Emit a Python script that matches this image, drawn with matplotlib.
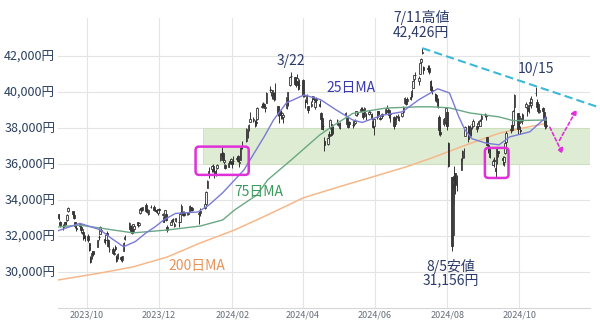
import matplotlib
matplotlib.use("Agg")
import matplotlib.pyplot as plt
import matplotlib.dates as mdates
from matplotlib.patches import FancyBboxPatch, Rectangle
import numpy as np
import pandas as pd

plt.rcParams['font.family'] = ['Noto Sans CJK JP', 'DejaVu Sans']

jp_holidays = ["2023-09-18", "2023-10-09", "2023-11-03", "2023-11-23", "2024-01-01",
               "2024-01-02", "2024-01-03", "2024-01-08", "2024-02-12", "2024-02-23",
               "2024-03-20", "2024-04-29", "2024-05-03", "2024-05-06", "2024-07-15",
               "2024-08-12", "2024-09-16", "2024-09-23", "2024-10-14"]

opens = [33200, 32750,
 32530, 32600, 32750, 32880, 33390,
 33380, 33150, 32790, 32460,
 32560, 32510, 32200, 32230, 32010,
 31990, 31590, 30780, 30790, 31140,
 31390, 31960, 32130, 32270,
 31850, 31770, 32150, 31760, 31250,
 31260, 31020, 31400, 30820, 30790,
 30840, 30660, 31190, 31840,
 32410, 32530, 32380, 32280, 32410,
 32770, 32620, 33260, 33550, 33460,
 33710, 33320, 33220, 33590,
 33620, 33440, 33450, 33300, 33510,
 33190, 33070, 33020, 33220, 32480,
 32620, 32860, 32920, 32550, 32840,
 32780, 32770, 33280, 33330, 33270,
 33220, 33240, 33380, 33580, 33530,
 33200, 33250,
 33560, 33790, 34660, 35360,
 35700, 35900, 35480, 35600, 35770,
 36220, 36600, 36580, 36100, 35960,
 35850, 36150, 36080, 36090, 36150,
 36260, 36460, 36050, 36210, 36980,
 37250, 37500, 37900, 38310,
 38460, 38360, 38300, 38490,
 39180, 39240, 39300, 39080, 39400,
 40110, 40000, 39800, 39940, 39580,
 39240, 38710, 38920, 38710, 38630,
 39120, 39770, 40390, 40870,
 40810, 40600, 40600, 40470, 40390,
 40650, 39750, 39480, 39450, 39210,
 39240, 39610, 39700, 39160, 39640,
 39330, 38800, 38570, 38120, 37250,
 37130, 37660, 37970, 38220, 37780,
 38450, 38180, 38010,
 38700, 38540, 38230, 38350,
 38180, 38200, 38280, 38740, 38850,
 38960, 39040, 38830, 38770, 38710,
 38790, 38890, 38790, 38370, 38110,
 38600, 38910, 38570, 38530, 38790,
 38830, 39020, 38920, 38990, 38770,
 38620, 38220, 38560, 38640, 38450,
 38670, 38870, 39370, 39580, 39480,
 39720, 39810, 40210, 40710, 40960,
 40580, 41010, 41680, 42180, 41380,
 41320, 41310, 40610, 40090,
 39860, 39810, 39620, 38590, 37780,
 38210, 38410, 38300, 38870, 37180,
 35250, 32080, 35340, 35470, 34930,
 35670, 36330, 36370, 37550,
 38130, 37610, 37890, 38210, 38110,
 37960, 38120, 38200, 38130, 38500,
 38740, 38650, 37500, 37040, 36600,
 35930, 36190, 35800, 36060, 36690,
 36330, 36080, 36580, 37200,
 37900, 38150, 38140, 39140,
 38820, 38250, 37890, 38320, 38460,
 39160, 39090, 38990, 39420, 39280,
 39960, 39460, 39350, 38870,
 39120, 38870, 38580, 38120]

highs = [33220, 32850,
 32660, 32800, 32840, 33200, 33630,
 33380, 33270, 32790, 32600,
 32700, 32560, 32390, 32280, 32060,
 32100, 31610, 30890, 31180, 31170,
 31780, 32040, 32530, 32400,
 31880, 32060, 32260, 31830, 31440,
 31380, 31190, 31470, 30920, 31040,
 30880, 30900, 31640, 32040,
 32770, 32600, 32440, 32650, 32600,
 32790, 32760, 33570, 33610, 33620,
 33850, 33520, 33520, 33720,
 33700, 33480, 33460, 33490, 33540,
 33300, 33100, 33460, 33240, 32590,
 32830, 32930, 32970, 32790, 33000,
 32940, 33350, 33770, 33370, 33370,
 33260, 33340, 33700, 33600, 33570,
 33380, 33570,
 33990, 34510, 35130, 35840,
 35960, 36010, 35710, 35740, 36000,
 36580, 36980, 36680, 36290, 36000,
 36110, 36250, 36320, 36100, 36440,
 36400, 36480, 36190, 36900, 37290,
 38000, 37870, 38230, 38870,
 38600, 38430, 38500, 39160,
 39390, 39430, 39360, 39250, 39990,
 40310, 40140, 40100, 40000, 40470,
 39240, 38900, 39000, 38860, 38740,
 39740, 40010, 40820, 41090,
 40840, 40630, 40980, 40580, 40700,
 40700, 39960, 39580, 39870, 39230,
 39480, 39780, 39770, 39540, 39720,
 39540, 38860, 38600, 38190, 37490,
 37520, 37820, 38480, 38240, 38120,
 38480, 38320, 38310,
 38870, 38540, 38330, 38390,
 38350, 38400, 38470, 38960, 38930,
 39140, 39150, 38880, 39170, 38800,
 38990, 38940, 38830, 38400, 38520,
 38940, 38960, 38640, 38740, 38800,
 39090, 39260, 39050, 39060, 38900,
 38640, 38500, 38710, 38780, 38640,
 38850, 39230, 39690, 39610, 39690,
 39860, 40170, 40640, 40950, 41100,
 40880, 41600, 41890, 42430, 41460,
 41510, 41470, 40670, 40340,
 39950, 39900, 39670, 38730, 38080,
 38570, 38620, 39160, 38930, 37220,
 35250, 34910, 35890, 35510, 35360,
 36320, 36760, 36860, 38120,
 38140, 38160, 38030, 38290, 38470,
 38160, 38340, 38460, 38480, 38790,
 38820, 38790, 37500, 37140, 36870,
 36290, 36360, 36060, 36870, 36740,
 36460, 36450, 37240, 37820,
 38170, 38220, 38980, 39880,
 38820, 38720, 38090, 38800, 38780,
 39440, 39170, 39330, 39680, 39780,
 40260, 39590, 39350, 39100,
 39160, 38900, 38580, 38410]

lows = [32900, 32510,
 32320, 32530, 32620, 32850, 33340,
 33130, 32930, 32450, 32300,
 32510, 32190, 32090, 31800, 31740,
 31650, 31180, 30490, 30740, 30870,
 31370, 31790, 32110, 32170,
 31570, 31760, 31990, 31370, 31130,
 30980, 30920, 31180, 30550, 30720,
 30600, 30540, 31160, 31790,
 32400, 32200, 32130, 32260, 32320,
 32500, 32570, 33240, 33340, 33370,
 33350, 33260, 33170, 33570,
 33390, 33360, 33280, 33190, 33320,
 33100, 32750, 32980, 32830, 32210,
 32590, 32760, 32760, 32520, 32800,
 32500, 32750, 33250, 33090, 33120,
 33150, 33180, 33380, 33380, 33380,
 32690, 33090,
 33510, 33760, 34650, 35220,
 35540, 35530, 35240, 35340, 35710,
 36180, 36350, 36160, 35990, 35700,
 35830, 35990, 36010, 35780, 35990,
 36210, 36120, 35850, 36190, 36820,
 37200, 37450, 37800, 38310,
 38350, 38070, 38100, 38440,
 39100, 39100, 39100, 38880, 39370,
 40000, 39790, 39630, 39510, 39550,
 38640, 38270, 38520, 38520, 38270,
 39050, 39240, 40340, 40770,
 40380, 40250, 40460, 40080, 40320,
 39730, 39710, 39080, 39340, 38800,
 39160, 39420, 39470, 39060, 39390,
 39170, 38440, 37960, 37900, 36730,
 37050, 37400, 37960, 37550, 37680,
 38170, 38100, 37960,
 38660, 38140, 37970, 38170,
 38020, 38080, 38250, 38680, 38680,
 38950, 38870, 38480, 38720, 38450,
 38710, 38790, 38460, 37990, 37620,
 38520, 38690, 38420, 38500, 38560,
 38770, 38860, 38810, 38550, 38330,
 37950, 38100, 38410, 38460, 38390,
 38590, 38850, 39360, 39290, 39430,
 39520, 39720, 40190, 40610, 40860,
 40360, 40990, 41520, 42080, 40990,
 41080, 40980, 40050, 39870,
 39480, 39440, 39080, 37610, 37530,
 38110, 38230, 38120, 37860, 35820,
 31160, 32080, 33740, 34340, 34520,
 35650, 36170, 36320, 37530,
 37230, 37490, 37560, 37960, 38060,
 37760, 37940, 38120, 38110, 38380,
 38590, 38440, 36980, 36590, 36300,
 35930, 35850, 35250, 36000, 36380,
 35960, 35900, 36530, 37020,
 37740, 37810, 38060, 38900,
 37650, 38040, 37640, 38210, 38400,
 39100, 38650, 38840, 39220, 39120,
 39750, 39110, 38840, 38830,
 38860, 38290, 37960, 37970]

closes = [32990, 32610,
 32470, 32780, 32710, 33170, 33530,
 33240, 33020, 32570, 32400,
 32680, 32320, 32370, 31870, 31860,
 31760, 31240, 30530, 31080, 30990,
 31750, 31940, 32490, 32320,
 31660, 32040, 32040, 31430, 31260,
 31060, 31060, 31270, 30600, 30990,
 30700, 30860, 31600, 31950,
 32710, 32270, 32170, 32650, 32570,
 32590, 32700, 33520, 33420, 33590,
 33390, 33350, 33450, 33630,
 33450, 33410, 33320, 33490, 33430,
 33230, 32780, 33450, 32860, 32310,
 32790, 32840, 32930, 32690, 32970,
 32760, 33220, 33680, 33140, 33170,
 33250, 33310, 33680, 33540, 33460,
 33290, 33380,
 33760, 34440, 35050, 35580,
 35900, 35620, 35480, 35470, 35960,
 36550, 36520, 36230, 36240, 35750,
 36030, 36070, 36290, 36010, 36160,
 36350, 36160, 36120, 36860, 36900,
 37960, 37700, 38160, 38490,
 38470, 38360, 38260, 39100,
 39230, 39240, 39210, 39170, 39910,
 40110, 40100, 40090, 39600, 39690,
 38820, 38800, 38700, 38810, 38710,
 39740, 40000, 40820, 40890,
 40410, 40400, 40760, 40170, 40370,
 39800, 39840, 39450, 39770, 38990,
 39350, 39770, 39580, 39440, 39520,
 39230, 38470, 37960, 38080, 37070,
 37440, 37550, 38460, 37630, 37930,
 38410, 38270, 38240,
 38840, 38200, 38070, 38230,
 38180, 38360, 38390, 38920, 38790,
 39070, 38950, 38620, 39100, 38650,
 38900, 38860, 38560, 38050, 38490,
 38920, 38840, 38490, 38700, 38680,
 39040, 39130, 38880, 38720, 38810,
 38100, 38480, 38570, 38630, 38600,
 38800, 39170, 39670, 39340, 39580,
 39630, 40070, 40580, 40910, 40910,
 40780, 41580, 41830, 42220, 41190,
 41280, 41100, 40130, 40060,
 39600, 39590, 39150, 37870, 37670,
 38470, 38530, 39100, 38130, 35910,
 31460, 34680, 35090, 34830, 35030,
 36230, 36440, 36730, 38060,
 37390, 38060, 37950, 38210, 38360,
 38110, 38290, 38370, 38360, 38650,
 38700, 38690, 37050, 36660, 36390,
 36160, 36160, 35620, 36830, 36580,
 36200, 36380, 37160, 37720,
 37940, 37870, 38930, 39830,
 37920, 38650, 37810, 38550, 38640,
 39330, 38940, 39280, 39380, 39610,
 39910, 39180, 38910, 38980,
 38950, 38410, 38100, 38140]

# Moving averages
ma25_dates = ["2023-09-07", "2023-09-25", "2023-10-12", "2023-10-21", "2023-11-01", "2023-11-11",
              "2023-11-20", "2023-11-28", "2023-12-05", "2023-12-15", "2024-01-03", "2024-01-12",
              "2024-01-24", "2024-02-11", "2024-02-28", "2024-03-07", "2024-03-18", "2024-04-02",
              "2024-04-16", "2024-04-29", "2024-05-13", "2024-05-21", "2024-06-07", "2024-06-24",
              "2024-07-08", "2024-07-24", "2024-08-03", "2024-08-11", "2024-08-16", "2024-08-22",
              "2024-09-03", "2024-09-14", "2024-09-23", "2024-10-10", "2024-10-24"]
ma25_vals = [32300, 32700, 32350, 31900, 31400, 31690,
             32170, 32520, 32890, 33250, 33330, 33700,
             34400, 35670, 37500, 38440, 39390, 39830,
             39560, 39000, 38440, 38300, 38700, 38890,
             39560, 40170, 39940, 38600, 37900, 37400,
             37150, 37060, 37500, 37780, 38600]

ma75_dates = ["2023-09-07", "2023-09-25", "2023-10-12", "2023-11-09", "2023-12-08", "2024-01-05",
              "2024-01-24", "2024-02-03", "2024-02-22", "2024-03-02", "2024-03-22", "2024-04-15",
              "2024-04-26", "2024-05-13", "2024-06-10", "2024-07-08", "2024-07-19", "2024-08-03",
              "2024-08-20", "2024-09-14", "2024-09-26", "2024-10-24"]
ma75_vals = [32500, 32600, 32440, 32170, 32330, 32550,
             32890, 33440, 34280, 35110, 36220, 37600,
             38100, 38800, 39100, 39170, 39170, 39110,
             38830, 38610, 38400, 38440]

ma200_dates = ["2023-09-07", "2023-10-12", "2023-11-09", "2023-12-08", "2024-01-05", "2024-02-03",
               "2024-03-02", "2024-04-01", "2024-05-01", "2024-05-30", "2024-06-27", "2024-07-19",
               "2024-08-15", "2024-08-29", "2024-09-14", "2024-10-01", "2024-10-24"]
ma200_vals = [29560, 29940, 30280, 30830, 31610, 32330,
              33170, 34110, 34720, 35280, 35830, 36330,
              37000, 37330, 37700, 37950, 38250]

y_ticks = [30000, 32000, 34000, 36000, 38000, 40000, 42000]
x_ticks = ["2023-10-01", "2023-12-01", "2024-02-01", "2024-04-01", "2024-06-01", "2024-08-01", "2024-10-01"]

dates = pd.bdate_range("2023-09-07", "2024-10-24", freq="C", holidays=jp_holidays)
n = min(len(dates), len(closes))
d = mdates.date2num(dates[:n].to_pydatetime())
o = np.array(opens[:n]); h = np.array(highs[:n]); l = np.array(lows[:n]); c = np.array(closes[:n])

fig = plt.figure(figsize=(6, 3.24), dpi=100)
ax = fig.add_axes([58/600, 1 - 308/324, (590-58)/600, (308-18)/324])
x0 = mdates.date2num(pd.Timestamp("2023-09-06 12:00"))
x1 = mdates.date2num(pd.Timestamp("2024-11-30"))
ax.set_xlim(x0, x1)
ax.set_ylim(28000, 44100)

for s in ['top', 'right', 'left']:
    ax.spines[s].set_visible(False)
ax.spines['bottom'].set_color('#d6d6d6')
ax.set_yticks(y_ticks)
ax.set_yticklabels([f"{v:,}円" for v in y_ticks], fontsize=9, color='#2a3f5f')
xt = mdates.date2num(pd.to_datetime(x_ticks).to_pydatetime())
ax.set_xticks(xt)
ax.set_xticklabels([pd.Timestamp(t).strftime("%Y/%m") for t in x_ticks], fontsize=6.5, color='#666e7a')
ax.tick_params(length=0, pad=1.5)
ax.tick_params(axis='y', pad=2)
ax.grid(True, color='#e4e4e4', lw=0.8)
ax.set_axisbelow(True)

# support zone
sx0 = mdates.date2num(pd.Timestamp("2024-01-07"))
ax.add_patch(Rectangle((sx0, 36000), x1 - sx0, 2000, facecolor='#deecd3', edgecolor='#c9dfba', lw=0.6, zorder=1))

# MAs
def md(lst):
    return mdates.date2num(pd.to_datetime(lst).to_pydatetime())
ax.plot(md(ma200_dates), ma200_vals, color='#f6b88a', lw=1.1, zorder=2)
ax.plot(md(ma75_dates), ma75_vals, color='#6aa884', lw=1.0, zorder=4)
ax.plot(md(ma25_dates), ma25_vals, color='#7a7ad8', lw=1.0, zorder=4)

# candles
up = c >= o
ax.vlines(d, l, h, color='#333333', lw=0.7, zorder=3)
w = 1.3
ax.bar(d[up], (c - o)[up], bottom=o[up], width=w, color='#f4f4f4', edgecolor='#333333', lw=0.6, zorder=3)
ax.bar(d[~up], (o - c)[~up], bottom=c[~up], width=w, color='#3a3a3a', edgecolor='#333333', lw=0.6, zorder=3)

# trend line
tl = md(["2024-07-11", "2024-12-09"])
ax.plot(tl, [42426, 39110], color='#3cb8da', lw=1.5, ls=(0, (4, 2)), clip_on=False, zorder=5)

# magenta boxes
asp = 55.56 / 0.847
for (a, b, lo, hi) in [("2024-01-01", "2024-02-15", 35390, 36960), ("2024-09-02", "2024-09-22", 35220, 36890)]:
    xa, xb = md([a, b])
    ax.add_patch(FancyBboxPatch((xa, lo), xb - xa, hi - lo, boxstyle="round,pad=0,rounding_size=3",
                                mutation_aspect=asp, facecolor='none', edgecolor='#e030d8', lw=1.8, zorder=6))

# arrows
mag = '#e030d8'
for (s0, v0, s1, v1) in [("2024-10-26", 38170, "2024-11-08", 36400), ("2024-11-03", 37170, "2024-11-20", 39170)]:
    p0, p1 = md([s0, s1])
    ax.annotate('', xy=(p1, v1), xytext=(p0, v0),
                arrowprops=dict(arrowstyle='-|>', color=mag, lw=1.2, ls=(0, (2, 1.5)), mutation_scale=8),
                zorder=6, annotation_clip=False)

navy = '#2b3a67'
def tx(date, val, s, color=navy, size=10, ha='center'):
    ax.text(md([date])[0], val, s, color=color, fontsize=size, ha=ha, va='center', zorder=7)

tx("2024-07-10", 44150, "7/11高値", size=10)
tx("2024-07-10", 43280, "42,426円", size=10)
tx("2024-03-22", 41730, "3/22", size=10)
tx("2024-10-15", 41280, "10/15", size=10)
tx("2024-05-12", 40200, "25日MA", color='#3838b0', size=10)
tx("2024-02-24", 34440, "75日MA", color='#3a9a5c', size=10)
tx("2024-01-02", 30330, "200日MA", color='#e8935a', size=10)
tx("2024-08-04", 30330, "8/5安値", size=10)
tx("2024-08-04", 29560, "31,156円", size=10)

fig.savefig("out.png", dpi=100, facecolor='white')
